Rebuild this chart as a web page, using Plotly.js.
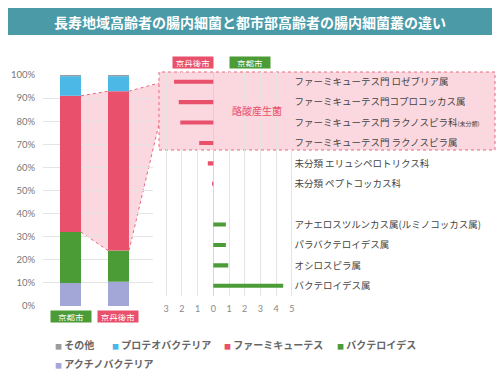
<!DOCTYPE html>
<html><head><meta charset="utf-8">
<script src="https://cdn.plot.ly/plotly-3.0.1.min.js"></script>
<style>html,body{margin:0;padding:0;background:#fff;}#chart{width:500px;height:380px;}</style>
</head><body><div id="chart"></div>
<script>
// ---------- data ----------
const titleText = '長寿地域高齢者の腸内細菌と都市部高齢者の腸内細菌叢の違い';
const cities = ['京都市', '京丹後市'];
const phyla = ['アクチノバクテリア', 'バクテロイデス', 'ファーミキューテス', 'プロテオバクテリア', 'その他'];
const kyotoShare = [10, 22, 59, 8.5, 0.5];
const kyotangoShare = [10.5, 13.5, 69, 6.5, 0.5];
const percentTicks = [0, 10, 20, 30, 40, 50, 60, 70, 80, 90, 100];
const percentTickLabels = ['0%', '10%', '20%', '30%', '40%', '50%', '60%', '70%', '80%', '90%', '100%'];

const taxa = [
  'ファーミキューテス門 ロゼブリア属',
  'ファーミキューテス門コプロコッカス属',
  'ファーミキューテス門 ラクノスピラ科<span style="font-size:6px">(未分類)</span>',
  'ファーミキューテス門 ラクノスピラ属',
  '未分類 エリュシペロトリクス科',
  '未分類 ペプトコッカス科',
  '\u3000',
  'アナエロスツルンカス属(ルミノコッカス属)',
  'パラバクテロイデス属',
  'オシロスピラ属',
  'バクテロイデス属'
];
const kyotangoHigher = [2.5, 2.2, 2.1, 0.9, 0.35, 0.08, null, null, null, null, null];
const kyotoHigher = [null, null, null, null, null, null, null, 0.8, 0.8, 0.95, 4.45];
const diffTicks = [-3, -2, -1, 0, 1, 2, 3, 4, 5];
const diffTickLabels = ['3', '2', '1', '0', '1', '2', '3', '4', '5'];
const butyrateLabel = '酪酸産生菌';

// ---------- styles ----------
const phylumColors = ['#a3a7d7', '#4b9c37', '#e8506c', '#4cb8e6', '#9c9c9c'];
const RED = '#e8506c', GREEN = '#4b9c37', PINK = '#fbd8df', DASH = '#e8687f';
const W = 500, H = 380;
const px = x => x / W, py = y => 1 - y / H;
const barW = 0.4375;
const xRange = [-0.573, 1.719], xDom = [px(43), px(153)];
const yRange = [0, 100], yDom = [py(306), py(75)];
const xToPaper = v => xDom[0] + (v - xRange[0]) / (xRange[1] - xRange[0]) * (xDom[1] - xDom[0]);
const yToPaper = v => yDom[0] + (v - yRange[0]) / (yRange[1] - yRange[0]) * (yDom[1] - yDom[0]);
const FONT = "'Noto Sans CJK JP', sans-serif";
const NUMFONT = "Lato, 'Noto Sans CJK JP', sans-serif";

// ---------- traces ----------
const traces = phyla.map((name, i) => ({
  type: 'bar', x: [0, 1], y: [kyotoShare[i], kyotangoShare[i]], width: barW,
  marker: {color: phylumColors[i], line: {width: 0}}, name: name,
  xaxis: 'x', yaxis: 'y', showlegend: false, hoverinfo: 'skip'
}));
traces.push({
  type: 'bar', orientation: 'h', y: taxa, x: kyotangoHigher.map(v => v == null ? null : -v),
  width: 0.2, marker: {color: RED}, xaxis: 'x2', yaxis: 'y2', showlegend: false, hoverinfo: 'skip', name: cities[1]
});
traces.push({
  type: 'bar', orientation: 'h', y: taxa, x: kyotoHigher,
  width: 0.2, marker: {color: GREEN}, xaxis: 'x2', yaxis: 'y2', showlegend: false, hoverinfo: 'skip', name: cities[0]
});

// Firmicutes segment bounds
const cum = arr => arr.slice(0, 2).reduce((a, b) => a + b, 0);
const kBot = cum(kyotoShare), kTop = kBot + kyotoShare[2];
const tBot = cum(kyotangoShare), tTop = tBot + kyotangoShare[2];

const boxL = 159, boxR = 495, boxT = 72, boxB = 150;
const funnelTop = 83, funnelBot = 124;
const shapes = [
  {type: 'rect', xref: 'paper', yref: 'paper', x0: px(8), x1: px(492), y0: py(35), y1: py(8),
   fillcolor: '#4b9aa7', line: {width: 0}, layer: 'below'},
  {type: 'path', xref: 'x', yref: 'y', layer: 'below', fillcolor: PINK, line: {width: 0},
   path: `M ${barW/2},${kTop} L ${1-barW/2},${tTop} L ${1-barW/2},${tBot} L ${barW/2},${kBot} Z`},
  {type: 'line', xref: 'x', yref: 'y', x0: barW/2, y0: kTop, x1: 1-barW/2, y1: tTop, line: {color: DASH, width: 1, dash: 'dot'}, layer: 'below'},
  {type: 'line', xref: 'x', yref: 'y', x0: barW/2, y0: kBot, x1: 1-barW/2, y1: tBot, line: {color: DASH, width: 1, dash: 'dot'}, layer: 'below'},
  {type: 'path', xref: 'paper', yref: 'paper', layer: 'below', fillcolor: PINK, line: {width: 0},
   path: `M ${xToPaper(1+barW/2)},${yToPaper(tTop)} L ${px(boxL)},${py(funnelTop)} L ${px(boxL)},${py(funnelBot)} L ${xToPaper(1+barW/2)},${yToPaper(tBot)} Z`},
  {type: 'line', xref: 'paper', yref: 'paper', x0: xToPaper(1+barW/2), y0: yToPaper(tTop), x1: px(boxL), y1: py(funnelTop), line: {color: DASH, width: 1, dash: 'dot'}, layer: 'below'},
  {type: 'line', xref: 'paper', yref: 'paper', x0: xToPaper(1+barW/2), y0: yToPaper(tBot), x1: px(boxL), y1: py(funnelBot), line: {color: DASH, width: 1, dash: 'dot'}, layer: 'below'},
  {type: 'rect', xref: 'paper', yref: 'paper', x0: px(boxL), x1: px(boxR), y0: py(boxB), y1: py(boxT),
   fillcolor: PINK, line: {color: DASH, width: 1, dash: 'dot'}, layer: 'below'}
];

// ---------- annotations ----------
const annotations = [
  {xref: 'paper', yref: 'paper', x: px(250), y: py(21.5), xanchor: 'center', yanchor: 'middle', showarrow: false,
   text: '<b>' + titleText + '</b>', font: {family: FONT, size: 14, color: '#ffffff'}},
  {xref: 'paper', yref: 'paper', x: px(257), y: py(110), xanchor: 'center', yanchor: 'middle', showarrow: false,
   text: butyrateLabel, font: {family: FONT, size: 10, color: RED}, bgcolor: PINK, borderpad: 1}
];
function cityTag(label, color, xref, x, y) {
  return {xref: xref, yref: 'paper', x: x, y: y, xanchor: 'center', yanchor: 'middle', showarrow: false,
    text: label, font: {family: FONT, size: 8.5, color: '#ffffff'},
    bgcolor: color, width: 38, height: 9, borderpad: 1};
}
annotations.push(cityTag(cities[0], GREEN, 'x', 0, py(316)));
annotations.push(cityTag(cities[1], RED, 'x', 1, py(316)));
annotations.push(cityTag(cities[1], RED, 'paper', px(193), py(63)));
annotations.push(cityTag(cities[0], GREEN, 'paper', px(249.5), py(63)));

const legendPos = [[53, 344], [110, 344], [222, 344], [335, 344], [53, 363]];
[4, 3, 2, 1, 0].forEach((idx, k) => {
  annotations.push({xref: 'paper', yref: 'paper', x: px(legendPos[k][0]), y: py(legendPos[k][1]),
    xanchor: 'left', yanchor: 'middle', showarrow: false,
    text: `<span style="color:${phylumColors[idx]};font-size:7px">■</span> <b>${phyla[idx]}</b>`,
    font: {family: FONT, size: 10, color: '#666666'}});
});

const layout = {
  width: W, height: H, margin: {l: 0, r: 0, t: 0, b: 0},
  paper_bgcolor: '#ffffff', plot_bgcolor: 'rgba(0,0,0,0)',
  barmode: 'relative', showlegend: false, font: {family: FONT},
  xaxis: {domain: xDom, range: xRange, showgrid: false, zeroline: false, showticklabels: false, fixedrange: true},
  yaxis: {domain: yDom, range: yRange, tickvals: percentTicks, ticktext: percentTickLabels,
    gridcolor: '#e4e4e4', gridwidth: 1, zeroline: false, ticks: 'outside', ticklen: 5, tickcolor: 'rgba(0,0,0,0)',
    tickfont: {family: NUMFONT, size: 9.5, color: '#777777'}, fixedrange: true},
  xaxis2: {domain: [px(160.7), px(293.4)], range: [-3.35, 5.1], anchor: 'y2', tickvals: diffTicks, ticktext: diffTickLabels,
    gridcolor: '#e4e4e4', gridwidth: 1, zeroline: true, zerolinecolor: '#d6d6d6', zerolinewidth: 1,
    ticks: 'outside', ticklen: 4, tickcolor: 'rgba(0,0,0,0)',
    tickfont: {family: NUMFONT, size: 9, color: '#888888'}, fixedrange: true},
  yaxis2: {domain: [py(296), py(71.5)], anchor: 'x2', side: 'right', type: 'category', categoryorder: 'array',
    categoryarray: taxa, range: [10.5, -0.5], showgrid: false, zeroline: false, ticks: '',
    tickfont: {family: FONT, size: 9.5, color: '#444444'}, fixedrange: true},
  shapes: shapes, annotations: annotations
};
Plotly.newPlot('chart', traces, layout, {displayModeBar: false, staticPlot: true});
</script>
</body></html>
